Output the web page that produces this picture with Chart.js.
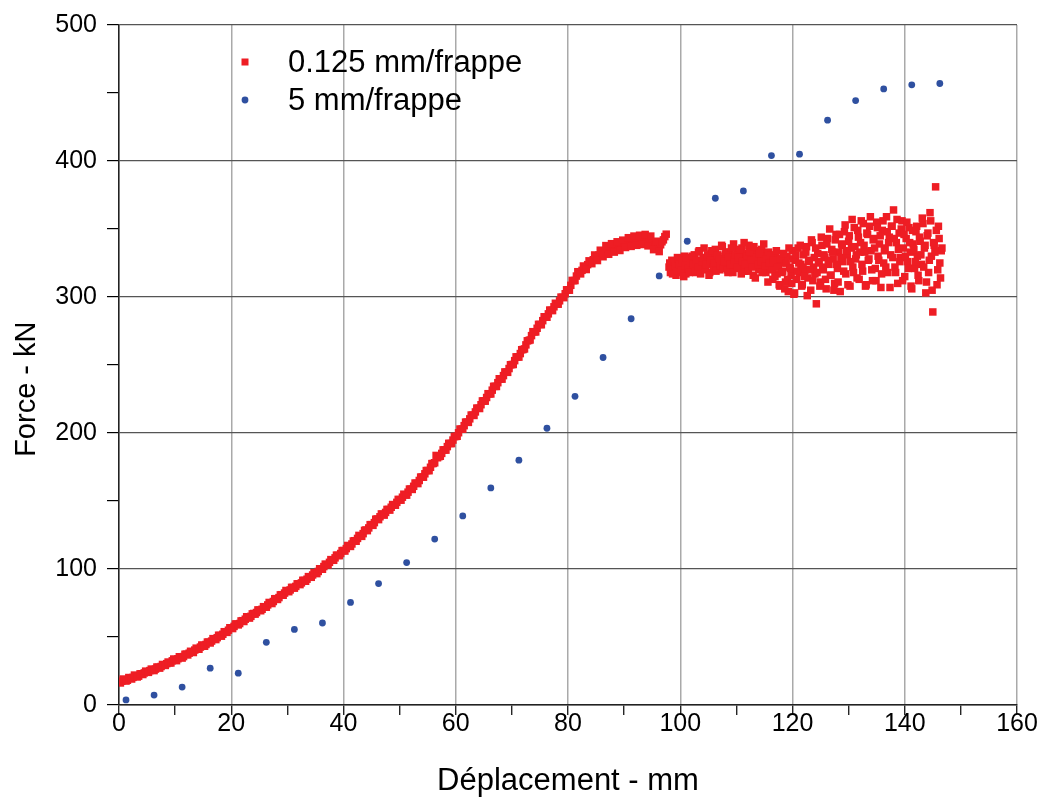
<!DOCTYPE html>
<html><head><meta charset="utf-8">
<script src="https://cdn.jsdelivr.net/npm/chart.js@4.4.0/dist/chart.umd.min.js"></script>
<style>html,body{margin:0;padding:0;background:#fff;overflow:hidden}</style>
</head><body>
<canvas id="c" width="1040" height="801"></canvas>
<script>
// ---- data ----
const seriesNames = ['0.125 mm/frappe', '5 mm/frappe'];
const xAxisTitle = 'Déplacement - mm';
const yAxisTitle = 'Force - kN';
const xTickLabels = [0, 20, 40, 60, 80, 100, 120, 140, 160];
const yTickLabels = [0, 100, 200, 300, 400, 500];

// 0.125 mm/frappe : rising part, readings every 0.5 mm from 0 mm
const redCurveStartMm = 0;
const redCurveStepMm = 0.5;
const redCurveForce = [
17.0,17.5,18.5,18.2,19.8,20.3,21.5,21.2,23.0,23.6,24.1,25.3,26.0,26.4,27.8,28.3,29.6,30.4,31.0,32.5,
33.4,34.0,35.2,35.6,37.4,38.1,38.9,40.4,41.3,42.6,43.8,44.5,46.2,47.0,48.6,49.5,51.1,52.0,53.8,55.0,
56.6,57.8,59.5,59.9,62.0,63.1,64.6,65.2,67.3,68.0,69.8,70.4,72.2,73.6,75.0,76.1,78.2,79.0,81.1,82.3,
84.0,84.6,86.4,87.2,89.0,89.8,91.6,92.5,94.2,95.6,97.0,98.2,100.1,101.8,103.2,104.9,106.8,108.2,110.0,111.4,
113.6,115.0,117.1,118.4,120.8,122.5,124.4,126.0,128.7,130.2,132.6,134.1,136.8,138.4,140.2,141.6,143.8,145.4,147.2,149.0,
151.0,152.8,154.6,156.5,158.7,160.8,163.0,165.1,167.6,170.0,172.4,174.8,177.6,183.5,182.6,185.0,187.6,190.0,192.3,194.8,
197.4,200.2,202.8,205.4,208.0,210.4,213.1,215.5,218.2,220.8,223.6,226.1,228.8,231.5,234.3,237.0,239.8,242.2,244.8,247.4,
250.3,253.2,256.0,258.4,261.4,264.8,268.0,271.6,274.4,277.0,279.8,282.6,285.4,287.6,290.2,292.8,295.0,297.2,299.8,302.4,
305.2,308.6,312.0,315.4,318.2,319.6,321.4,323.8,325.6,327.4,329.2,330.8,332.4,334.0,335.2,336.6,335.8,337.4,338.0,336.8,
339.2,340.4,338.8,341.2,340.0,342.6,341.0,343.4,340.8,342.2,339.6,337.8,335.6,338.4,342.0,346.2
];
// rising part, the readings in between, every 0.5 mm from 0.25 mm
const redCurveBStartMm = 0.25;
const redCurveForceB = [
16.2,19.1,17.6,20.2,19.1,22.0,20.6,22.9,22.4,24.9,24.0,26.4,25.3,27.9,27.1,29.8,29.1,31.6,30.9,33.8,
32.6,35.5,34.5,37.3,36.8,39.5,38.6,41.8,41.0,44.1,43.2,46.3,45.6,48.8,48.1,51.3,50.6,53.9,53.4,56.8,
56.2,59.6,58.9,61.8,61.4,64.9,63.9,67.0,66.8,69.9,69.3,72.3,71.9,75.4,74.6,78.1,77.6,81.0,80.7,84.2,
83.3,86.5,85.9,89.1,88.5,91.7,91.0,94.4,93.9,97.3,96.6,100.2,99.8,103.6,103.0,106.9,106.4,110.2,109.8,113.5,
113.2,117.3,116.6,120.6,120.4,124.7,124.0,128.4,128.2,132.6,132.1,136.6,136.3,140.5,139.6,143.8,143.3,147.4,146.9,151.2,
150.6,155.0,154.3,158.8,158.5,163.2,162.8,167.6,167.5,172.4,172.3,177.5,178.1,181.8,182.9,187.6,187.4,192.4,192.2,197.4,
197.6,202.9,202.8,208.0,207.8,213.2,212.9,218.3,218.0,223.6,223.4,228.9,228.7,234.3,234.2,239.9,239.6,244.9,244.6,250.2,
250.4,256.0,255.8,261.2,261.8,267.8,268.4,274.5,274.3,279.9,279.6,285.5,285.1,290.4,290.0,295.4,294.7,299.9,299.5,305.3,
305.0,312.2,312.1,318.6,317.0,322.8,320.2,326.6,324.5,330.9,326.8,334.4,329.6,337.8,331.4,339.2,333.0,340.6,334.2,341.8,
336.4,343.6,337.2,344.8,338.0,345.4,338.6,346.0,337.6,344.8,334.8,341.0,333.4,340.6,344.4
];

// 0.125 mm/frappe : scattered part, readings every 0.25 mm from 98 mm
const redTailStartMm = 98;
const redTailStepMm = 0.25;
const redTailForce = [
322,318,327,320,325,316,329,322,318,326,321,330,317,324,328,319,326,322,331,318,
325,333,320,327,323,336,321,329,325,318,332,327,322,335,326,330,320,328,337,324,
331,326,318,333,327,322,339,329,325,334,321,330,336,326,319,332,327,338,323,329,
316,334,325,331,320,328,335,322,330,318,326,333,321,327,313,324,330,317,323,308,
328,319,325,311,330,304,322,316,334,302,327,313,336,318,324,309,331,320,337,314,
326,305,340,322,317,295,332,326,311,338,320,329,306,343,324,316,335,328,310,346,
321,333,304,339,326,348,317,331,341,308,336,322,351,328,314,344,333,356,319,338,
308,347,327,352,334,312,343,321,355,330,339,307,349,325,336,359,318,344,331,352,
364,322,340,310,347,329,356,336,315,343,326,351,333,306,339,321,348,330,312,341,
324,354,336,303,345,318,362,330,289,338,381,309,352,325,334
];
// scattered part, the readings in between, every 0.25 mm from 98.125 mm
const redTailBStartMm = 98.125;
const redTailForceB = [
325,321,317,326,323,319,328,324,320,327,315,323,329,321,318,325,330,324,319,327,
322,334,317,326,329,320,324,331,316,327,334,322,325,319,331,328,323,338,321,326,
333,320,329,324,336,318,327,331,322,329,335,317,326,340,324,330,319,333,327,322,
337,314,329,324,332,326,318,339,323,328,311,325,331,320,327,315,334,322,309,328,
318,332,306,325,313,336,321,310,328,303,331,319,325,338,308,322,315,333,301,327,
320,342,312,329,336,318,325,308,344,322,331,313,339,327,350,316,333,305,342,324,
311,346,329,338,319,353,334,309,345,326,357,318,337,331,349,313,340,324,354,333,
309,346,328,359,320,342,336,312,351,327,345,317,356,334,322,348,340,307,352,329,
343,318,357,335,326,350,312,346,330,355,321,340,308,349,335,326,352,316,344,331,
358,322,338,311,347,327,356,305,340,333,349,320,343,314,336
];

// 5 mm/frappe
const blueDisp = [1.25,6.25,11.25,16.25,21.25,26.25,31.25,36.25,41.25,46.25,51.25,56.25,61.25,66.25,71.25,
                  76.25,81.25,86.25,91.25,96.25,101.25,106.25,111.25,116.25,121.25,126.25,131.25,136.25,141.25,146.25];
const blueForce = [3.7,7.3,13.2,27.1,23.4,46.1,55.6,60.3,75.4,89.3,104.7,122,139,159.6,180,
                   203.5,227,255.5,284,315.5,341,372.6,378,404,405,430,444.4,453,456,457];

// ---- build points ----
const redPoints = [];
const addRed = (arr, start, step) => arr.forEach((f, i) => redPoints.push({x: start + i * step, y: f}));
addRed(redCurveForce, redCurveStartMm, redCurveStepMm);
addRed(redCurveForceB, redCurveBStartMm, redCurveStepMm);
addRed(redTailForce, redTailStartMm, redTailStepMm);
addRed(redTailForceB, redTailBStartMm, redTailStepMm);
const bluePoints = blueDisp.map((x, i) => ({x: x, y: blueForce[i]}));

const FONT = '"Liberation Sans", Arial, Helvetica, sans-serif';
const RED = '#ee1d24';
const BLUE = '#2f50a0';

const legendPlugin = {
  id: 'inlineLegend',
  afterDraw(chart) {
    const ctx = chart.ctx;
    ctx.save();
    ctx.fillStyle = RED;
    ctx.fillRect(245 - 3.5, 62 - 3.5, 7, 7);
    ctx.fillStyle = BLUE;
    ctx.beginPath(); ctx.arc(245, 100, 3.4, 0, Math.PI * 2); ctx.fill();
    ctx.fillStyle = '#000';
    ctx.font = '31px ' + FONT;
    ctx.textBaseline = 'middle';
    ctx.textAlign = 'left';
    ctx.fillText(seriesNames[0], 288, 63);
    ctx.fillText(seriesNames[1], 288, 101);
    ctx.restore();
  }
};

const NB = '\u00a0';
new Chart(document.getElementById('c'), {
  type: 'scatter',
  data: {
    datasets: [
      {label: seriesNames[0], data: redPoints, pointStyle: 'rect', pointRadius: 5.3,
       backgroundColor: RED, borderWidth: 0, pointBorderWidth: 0, pointHoverRadius: 5.3, order: 2},
      {label: seriesNames[1], data: bluePoints, pointStyle: 'circle', pointRadius: 3.4,
       backgroundColor: BLUE, borderWidth: 0, pointBorderWidth: 0, pointHoverRadius: 3.4, order: 1}
    ]
  },
  options: {
    responsive: false,
    animation: false,
    events: [],
    layout: {padding: {left: 0, right: 23, top: 22, bottom: 0}},
    plugins: {legend: {display: false}, tooltip: {enabled: false}},
    scales: {
      x: {
        type: 'linear', min: 0, max: 160,
        afterFit: s => { s.height = 96; },
        ticks: {
          stepSize: 10, autoSkip: false, maxRotation: 0, padding: -6, color: '#000',
          font: {family: FONT, size: 25},
          callback: v => (xTickLabels.includes(v) ? String(v) : '')
        },
        grid: {
          color: c => (c.tick && xTickLabels.includes(c.tick.value) ? '#a9a9a9' : 'rgba(0,0,0,0)'),
          lineWidth: 1.5, tickColor: '#000', tickLength: 10, tickWidth: 1.2
        },
        border: {color: '#222', width: 1.5},
        title: {display: true, text: xAxisTitle, color: '#000', font: {family: FONT, size: 31}, padding: {top: 0, bottom: 1}}
      },
      y: {
        type: 'linear', min: 0, max: 500,
        afterFit: s => { s.width = 119; },
        ticks: {
          stepSize: 50, autoSkip: false, padding: 10, color: '#000',
          font: {family: FONT, size: 25},
          callback: v => (yTickLabels.includes(v) ? String(v) : '')
        },
        grid: {
          color: c => (c.tick && yTickLabels.includes(c.tick.value) ? '#555555' : 'rgba(0,0,0,0)'),
          lineWidth: 1.2, tickColor: '#000', tickLength: 12, tickWidth: 1.2
        },
        border: {color: '#222', width: 1.5},
        title: {display: true, text: yAxisTitle + NB.repeat(6), color: '#000', font: {family: FONT, size: 29}, padding: {top: 10, bottom: 0}}
      }
    }
  },
  plugins: [legendPlugin]
});
</script>
</body></html>
